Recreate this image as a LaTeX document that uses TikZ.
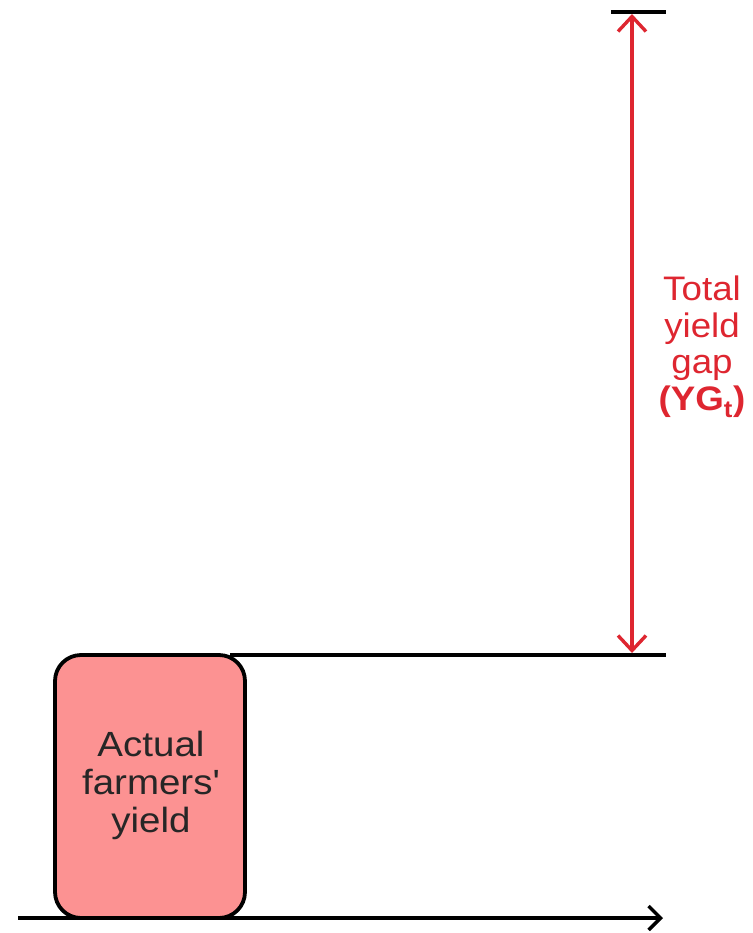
\documentclass[tikz,border=0pt]{standalone}
\usepackage{fontspec}
\setmainfont{Liberation Sans}[Ligatures=TeXOff]
\usetikzlibrary{arrows.meta}
\definecolor{boxpink}{RGB}{252,146,146}
\definecolor{gapred}{RGB}{222,38,48}
\begin{document}
\begin{tikzpicture}[x=1pt,y=-1pt,
  blackline/.style={line width=4pt,black},
  redarrow/.style={line width=3.4pt,gapred,{Straight Barb[length=15pt,width=28pt,line width=3.4pt]}-{Straight Barb[length=15pt,width=28pt,line width=3.4pt]}},
  yieldbox/.style={draw=black,line width=3.8pt,fill=boxpink,rounded corners=26pt},
  boxtext/.style={font=\fontsize{35}{38}\selectfont,align=center,text=black!85,xscale=1.1},
  gaptext/.style={font=\fontsize{34}{36.5}\selectfont,align=center,text=gapred,xscale=1.08}]
\useasboundingbox (0,0) rectangle (752,933);
% top and middle levels
\coordinate (topL) at (611,12);
\coordinate (topR) at (666,12);
\coordinate (midR) at (666,655);
\coordinate (axL) at (18,918);
\coordinate (axR) at (663,918);
\coordinate (arrTop) at (632,14);
\coordinate (arrBot) at (632,653);
% box
\draw[yieldbox] (55,655) rectangle (245,918);
\node[boxtext] (afy) at (151,785) {Actual\\farmers'\\yield};
\coordinate (boxTR) at (230,655);
\draw[blackline] (topL) -- (topR);
\draw[blackline] (boxTR) -- (midR);
\draw[blackline,-{Straight Barb[length=12pt,width=24pt,line width=3.4pt]}] (axL) -- (axR);
\draw[redarrow] (arrTop) -- (arrBot);
\node[gaptext] (ygt) at (702,347) {Total\\yield\\gap\\\textbf{(YG\textsubscript{t})}};
\end{tikzpicture}
\end{document}
